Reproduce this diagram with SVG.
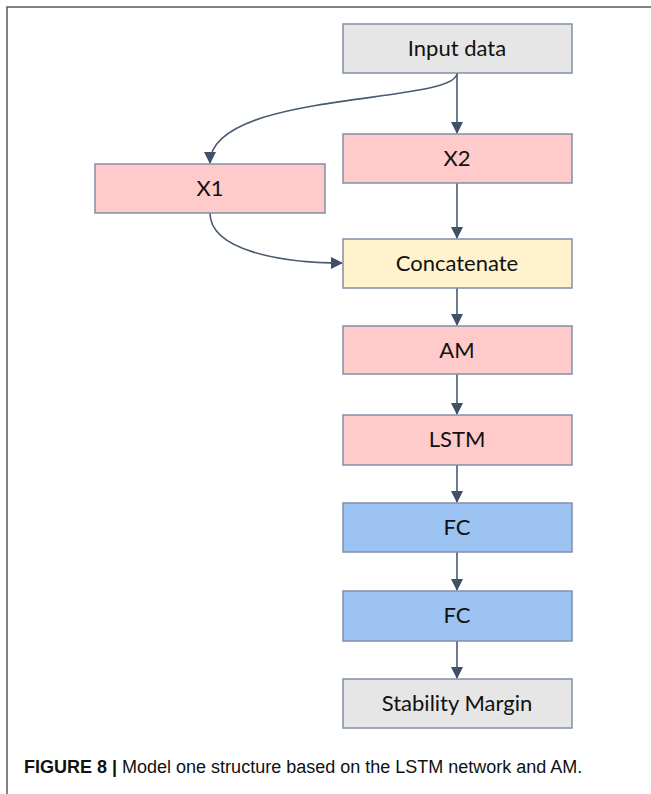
<svg xmlns="http://www.w3.org/2000/svg" width="651" height="794" viewBox="0 0 651 794">
<defs>
<style>
.box{stroke:#8090a8;stroke-width:1.5}
.gray{fill:#e6e6e6}
.pink{fill:#ffcaca}
.yellow{fill:#fff2cc}
.blue{fill:#9cc3f2}
.lbl{font-family:Lato,"Liberation Sans",sans-serif;font-size:22px;fill:#111;text-anchor:middle}
.conn{fill:none;stroke:#4a5a70;stroke-width:1.6}
.frame{fill:none;stroke:#5a5a5a;stroke-width:1.5}
.cap{font-family:"Liberation Sans",Arial,sans-serif;font-size:18px;fill:#111}
</style>
<marker id="ah" markerUnits="userSpaceOnUse" markerWidth="12" markerHeight="12" viewBox="0 0 12 12" refX="11" refY="6" orient="auto">
<path d="M0,0 L12,6 L0,12 Z" fill="#3f5068"/>
</marker>
</defs>
<rect width="651" height="794" fill="#fff"/>
<path class="frame" d="M7,794 L7,7 L651,7"/>
<g id="connectors">
<path class="conn" d="M457,73 L457,133" marker-end="url(#ah)"/>
<path class="conn" d="M457,73 C457,105 210,90 210,163" marker-end="url(#ah)"/>
<path class="conn" d="M457,183 L457,238" marker-end="url(#ah)"/>
<path class="conn" d="M210,213 C210,250 280,263 342,263" marker-end="url(#ah)"/>
<path class="conn" d="M457,288 L457,325" marker-end="url(#ah)"/>
<path class="conn" d="M457,374 L457,414" marker-end="url(#ah)"/>
<path class="conn" d="M457,465 L457,502" marker-end="url(#ah)"/>
<path class="conn" d="M457,552 L457,590" marker-end="url(#ah)"/>
<path class="conn" d="M457,641 L457,678" marker-end="url(#ah)"/>
</g>
<g id="input"><rect class="box gray" x="343" y="24" width="229" height="49"/><text class="lbl" x="457" y="56">Input data</text></g>
<g id="x2"><rect class="box pink" x="343" y="134" width="229" height="49"/><text class="lbl" x="457" y="166">X2</text></g>
<g id="x1"><rect class="box pink" x="95" y="164" width="230" height="49"/><text class="lbl" x="210" y="196">X1</text></g>
<g id="concat"><rect class="box yellow" x="343" y="239" width="229" height="49"/><text class="lbl" x="457" y="271">Concatenate</text></g>
<g id="am"><rect class="box pink" x="343" y="326" width="229" height="48"/><text class="lbl" x="457" y="358">AM</text></g>
<g id="lstm"><rect class="box pink" x="343" y="415" width="229" height="50"/><text class="lbl" x="457" y="447">LSTM</text></g>
<g id="fc1"><rect class="box blue" x="343" y="503" width="229" height="49"/><text class="lbl" x="457" y="535">FC</text></g>
<g id="fc2"><rect class="box blue" x="343" y="591" width="229" height="50"/><text class="lbl" x="457" y="623">FC</text></g>
<g id="stability"><rect class="box gray" x="343" y="679" width="229" height="49"/><text class="lbl" x="457" y="711">Stability Margin</text></g>
<text class="cap" x="24" y="773"><tspan font-weight="bold">FIGURE 8 | </tspan>Model one structure based on the LSTM network and AM.</text>
</svg>
